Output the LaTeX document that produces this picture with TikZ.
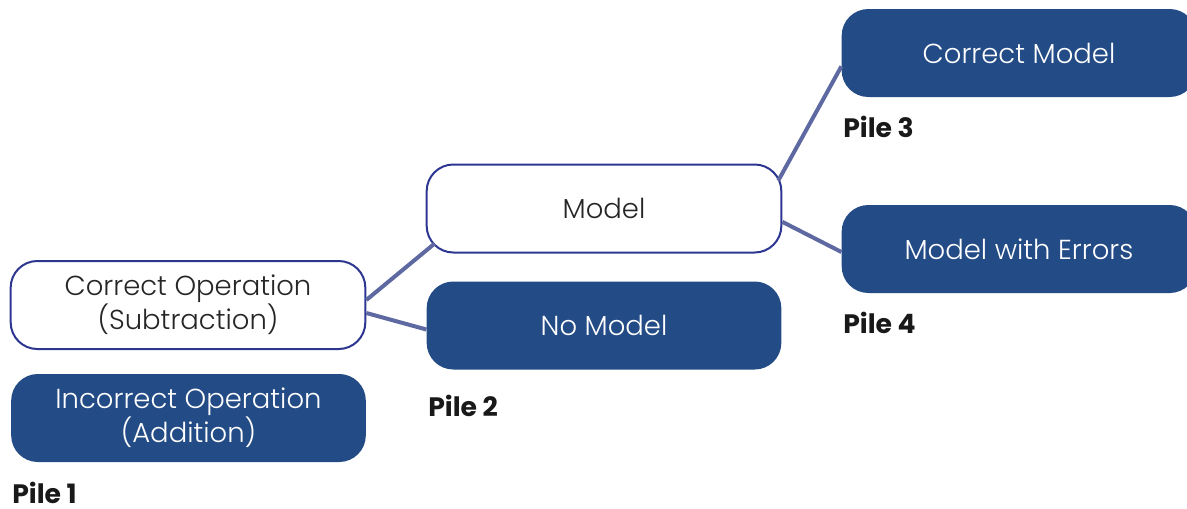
\documentclass[tikz,border=0pt]{standalone}
\usepackage{fontspec}
\setmainfont{Poppins Light}
\newfontfamily\pilefont{Poppins}
\definecolor{boxblue}{RGB}{35,75,133}
\definecolor{edgeblue}{RGB}{45,55,145}
\definecolor{linkblue}{RGB}{93,105,160}
\begin{document}
\begin{tikzpicture}[x=0.75pt,y=-0.75pt,
  basebox/.style={rounded corners=20pt, minimum width=266pt, minimum height=66pt, inner sep=0pt, align=center, font=\fontsize{20.6pt}{25.5pt}\selectfont},
  openbox/.style={basebox, draw=edgeblue, line width=1.5pt, fill=white, text=black!85},
  pilebox/.style={basebox, fill=boxblue, text=white},
  link/.style={draw=linkblue, line width=3pt},
  pile/.style={anchor=base west, inner sep=0pt, font=\pilefont\bfseries\fontsize{20pt}{24pt}\selectfont, text=black!90}]
\useasboundingbox (0,0) rectangle (1187,508);
\clip (0,0) rectangle (1187,508);
\node[openbox] (co) at (188,305) {Correct Operation\\(Subtraction)};
\node[pilebox] (io) at (188.5,418) {Incorrect Operation\\(Addition)};
\node[openbox] (model) at (604,208.5) {Model};
\node[pilebox] (nm) at (604,325.5) {No Model};
\node[pilebox] (cm) at (1019,53) {Correct Model};
\node[pilebox] (mwe) at (1019,249) {Model with Errors};
\node[pile] (p1) at (12,503) {Pile 1};
\node[pile] (p2) at (428,416) {Pile 2};
\node[pile] (p3) at (843,137) {Pile 3};
\node[pile] (p4) at (843,333) {Pile 4};
\draw[link] ([yshift=3.75pt]co.east) -- ([xshift=6.75pt,yshift=7.5pt]model.south west);
\draw[link] ([yshift=-6pt]co.east) -- ([yshift=-3pt]nm.west);
\draw[link] ([xshift=-3pt,yshift=21pt]model.east) -- ([yshift=-10pt]cm.west);
\draw[link] ([yshift=-10pt]model.east) -- ([yshift=-2.25pt]mwe.west);
\end{tikzpicture}
\end{document}
